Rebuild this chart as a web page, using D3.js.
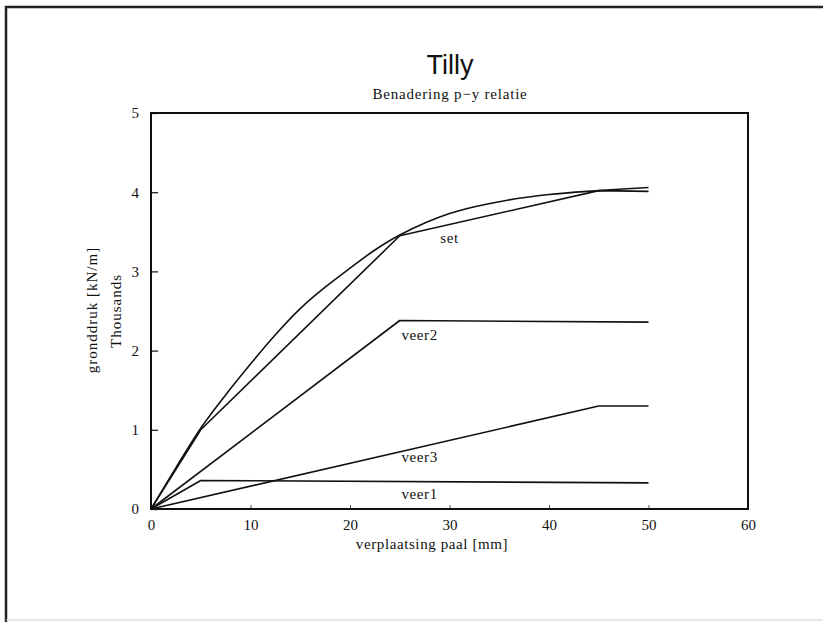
<!DOCTYPE html>
<html><head><meta charset="utf-8">
<script src="https://cdn.jsdelivr.net/npm/d3@7"></script>
<style>body{margin:0;background:#fff}svg{display:block}</style>
</head><body>
<svg id="c" width="823" height="623"></svg>
<script>
// x: verplaatsing paal [mm], y: gronddruk [thousands kN/m]
const curveX = [0, 2.5, 5, 7.5, 10, 12.5, 15, 17.5, 20, 22.5, 25, 30, 35, 40, 45, 50];
const curveY = [0, 0.52, 1.02, 1.44, 1.83, 2.2, 2.53, 2.8, 3.04, 3.27, 3.46, 3.73, 3.88, 3.97, 4.02, 4.06];
const setX = [0, 5, 25, 45, 50];
const setY = [0, 1.0, 3.45, 4.02, 4.01];
const veer2X = [0, 25, 50];
const veer2Y = [0, 2.38, 2.36];
const veer3X = [0, 45, 50];
const veer3Y = [0, 1.3, 1.3];
const veer1X = [0, 5, 50];
const veer1Y = [0, 0.36, 0.33];
const labels = [
  {text: "set", x: 30, y: 3.36},
  {text: "veer2", x: 27, y: 2.13},
  {text: "veer3", x: 27, y: 0.59},
  {text: "veer1", x: 27, y: 0.13}
];
const xTicks = [0, 10, 20, 30, 40, 50, 60];
const yTicks = [0, 1, 2, 3, 4, 5];

const svg = d3.select("#c");
const L = 151, R = 748, T = 113, B = 509;
const x = d3.scaleLinear().domain([0, 60]).range([L, R]);
const y = d3.scaleLinear().domain([0, 5]).range([B, T]);

// outer frame
svg.append("path").attr("d", "M6,622 L6,7 L823,7").attr("fill", "none")
  .attr("stroke", "#222").attr("stroke-width", 2.5);
svg.append("line").attr("x1", 6).attr("x2", 823).attr("y1", 620).attr("y2", 620)
  .attr("stroke", "#ccc").attr("stroke-width", 1);

const serif = "'Liberation Serif', 'DejaVu Serif', serif";

// titles
svg.append("text").attr("x", 450).attr("y", 74).attr("text-anchor", "middle")
  .attr("font-family", "'Liberation Sans', Arial, sans-serif").attr("font-size", 27).attr("fill", "#111").text("Tilly");
svg.append("text").attr("x", 450).attr("y", 99).attr("text-anchor", "middle")
  .attr("font-family", serif).attr("font-size", 15).attr("letter-spacing", 0.8).attr("fill", "#111")
  .text("Benadering p\u2212y relatie");

// axes
const xAxis = d3.axisBottom(x).tickValues(xTicks).tickSize(-4).tickPadding(10).tickFormat(d3.format("d"));
const gx = svg.append("g").attr("transform", `translate(0,${B})`).call(xAxis);
gx.select(".domain").remove();
gx.selectAll(".tick line").attr("stroke", "#555");
gx.selectAll("text").attr("font-family", serif).attr("font-size", 15).attr("fill", "#111");

const yAxis = d3.axisLeft(y).tickValues(yTicks).tickSize(-7).tickPadding(12).tickFormat(d3.format("d"));
const gy = svg.append("g").attr("transform", `translate(${L},0)`).call(yAxis);
gy.select(".domain").remove();
gy.selectAll(".tick line").attr("stroke", "#222").attr("stroke-width", 1.3);
gy.selectAll("text").attr("font-family", serif).attr("font-size", 15).attr("fill", "#111");

// plot frame
svg.append("rect").attr("x", L).attr("y", T).attr("width", R - L).attr("height", B - T)
  .attr("fill", "none").attr("stroke", "#111").attr("stroke-width", 2);

// axis titles
svg.append("text").attr("x", 432).attr("y", 549).attr("text-anchor", "middle")
  .attr("font-family", serif).attr("font-size", 15).attr("letter-spacing", 0.6).attr("fill", "#111")
  .text("verplaatsing paal [mm]");
svg.append("text").attr("transform", "translate(97,310) rotate(-90)").attr("text-anchor", "middle")
  .attr("font-family", serif).attr("font-size", 15).attr("letter-spacing", 1).attr("fill", "#111")
  .text("gronddruk [kN/m]");
svg.append("text").attr("transform", "translate(121,311) rotate(-90)").attr("text-anchor", "middle")
  .attr("font-family", serif).attr("font-size", 15).attr("letter-spacing", 1).attr("fill", "#111")
  .text("Thousands");

// lines
const mk = (xs, ys) => xs.map((v, i) => [v, ys[i]]);
const straight = d3.line().x(d => x(d[0])).y(d => y(d[1]));
const smooth = d3.line().x(d => x(d[0])).y(d => y(d[1])).curve(d3.curveCatmullRom.alpha(0.5));
const series = [
  {d: mk(curveX, curveY), gen: smooth},
  {d: mk(setX, setY), gen: straight},
  {d: mk(veer2X, veer2Y), gen: straight},
  {d: mk(veer3X, veer3Y), gen: straight},
  {d: mk(veer1X, veer1Y), gen: straight}
];
svg.append("g").selectAll("path").data(series).join("path")
  .attr("d", s => s.gen(s.d)).attr("fill", "none").attr("stroke", "#111")
  .attr("stroke-width", 1.6).attr("stroke-linejoin", "round");

svg.append("g").selectAll("text").data(labels).join("text")
  .attr("x", d => x(d.x)).attr("y", d => y(d.y)).attr("text-anchor", "middle")
  .attr("font-family", serif).attr("font-size", 15).attr("letter-spacing", 0.6).attr("fill", "#111")
  .text(d => d.text);
</script>
</body></html>
